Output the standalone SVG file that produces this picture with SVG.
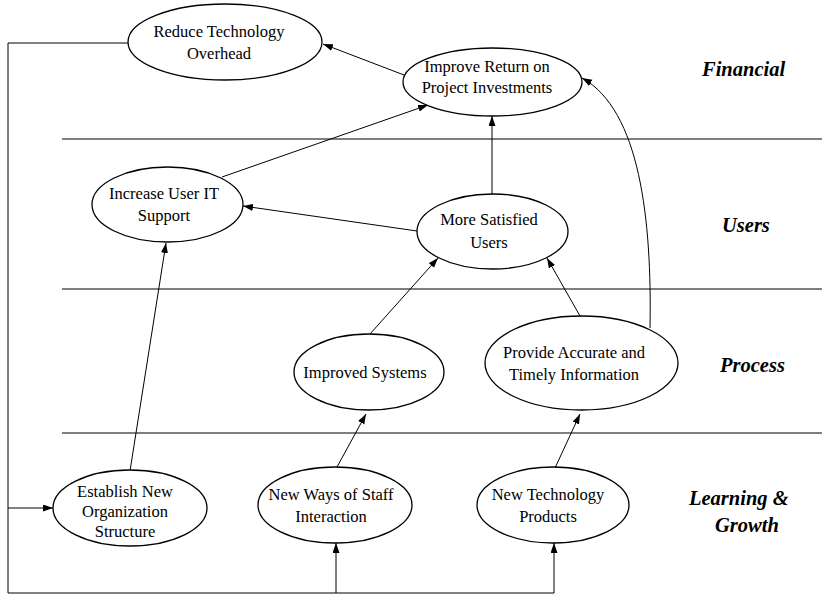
<svg xmlns="http://www.w3.org/2000/svg" width="822" height="598" viewBox="0 0 822 598">
  <style>
    .node ellipse { fill: #ffffff; stroke: #000000; stroke-width: 1.3; }
    .node text { font-family: "Liberation Serif", "Times New Roman", serif; font-size: 16.5px; fill: #000000; text-anchor: middle; }
    .band { stroke: #000000; stroke-width: 1.2; }
    .perspective { font-family: "Liberation Serif", "Times New Roman", serif; font-size: 20.5px; font-weight: bold; font-style: italic; fill: #000000; }
    .conn { fill: none; stroke: #000000; stroke-width: 1; }
    .arrow { marker-end: url(#head); }
  </style>
  <defs>
    <marker id="head" markerUnits="userSpaceOnUse" markerWidth="11" markerHeight="8" refX="10" refY="3.5" orient="auto">
      <path d="M0,0 L10,3.5 L0,7 z" fill="#000000"/>
    </marker>
  </defs>

  <rect width="822" height="598" fill="#ffffff"/>

  <!-- perspective bands -->
  <g id="bands">
    <line class="band" x1="62" y1="139" x2="822" y2="139"/>
    <line class="band" x1="62" y1="289" x2="822" y2="289"/>
    <line class="band" x1="62" y1="433" x2="822" y2="433"/>
    <text class="perspective" x="702" y="76">Financial</text>
    <text class="perspective" x="722" y="232">Users</text>
    <text class="perspective" x="720" y="372">Process</text>
    <text class="perspective" x="689" y="505">Learning &amp;</text>
    <text class="perspective" x="715" y="532">Growth</text>
  </g>

  <!-- connectors -->
  <g id="connectors">
    <line class="conn arrow" x1="404" y1="75" x2="323" y2="44"/>
    <line class="conn arrow" x1="222" y1="177" x2="428" y2="105"/>
    <line class="conn arrow" x1="492" y1="194" x2="492" y2="116"/>
    <line class="conn arrow" x1="417" y1="231" x2="243" y2="206"/>
    <line class="conn arrow" x1="370" y1="334" x2="438" y2="258"/>
    <line class="conn arrow" x1="580" y1="316" x2="547" y2="258"/>
    <path class="conn arrow" d="M650,328 C652,220 640,110 582,78"/>
    <line class="conn arrow" x1="130" y1="471" x2="166" y2="243"/>
    <line class="conn arrow" x1="337" y1="467" x2="366" y2="414"/>
    <line class="conn arrow" x1="555" y1="468" x2="580" y2="414"/>
    <!-- feedback loop from overhead reduction to the learning & growth nodes -->
    <polyline class="conn arrow" points="129,43 8,43 8,593 554,593 554,543"/>
    <line class="conn arrow" x1="336" y1="593" x2="336" y2="543"/>
    <line class="conn arrow" x1="8" y1="508" x2="53" y2="508"/>
  </g>

  <g id="reduce-overhead" class="node">
    <ellipse cx="225" cy="42" rx="97" ry="38"/>
    <text x="219" y="37">Reduce Technology</text>
    <text x="219" y="59">Overhead</text>
  </g>

  <g id="improve-return" class="node">
    <ellipse cx="492.5" cy="82" rx="89.5" ry="34"/>
    <text x="487" y="72">Improve Return on</text>
    <text x="487" y="93">Project Investments</text>
  </g>

  <g id="increase-support" class="node">
    <ellipse cx="167.5" cy="204.5" rx="75.5" ry="37.5"/>
    <text x="164" y="199">Increase User IT</text>
    <text x="164" y="221">Support</text>
  </g>

  <g id="satisfied-users" class="node">
    <ellipse cx="492.5" cy="231.5" rx="75.5" ry="37.5"/>
    <text x="489" y="225">More Satisfied</text>
    <text x="489" y="248">Users</text>
  </g>

  <g id="improved-systems" class="node">
    <ellipse cx="369" cy="372" rx="75" ry="38"/>
    <text x="365" y="378">Improved Systems</text>
  </g>

  <g id="accurate-info" class="node">
    <ellipse cx="581.5" cy="363" rx="96.5" ry="47"/>
    <text x="574" y="358">Provide Accurate and</text>
    <text x="574" y="380">Timely Information</text>
  </g>

  <g id="new-organization" class="node">
    <ellipse cx="130" cy="508" rx="77" ry="38"/>
    <text x="125" y="497">Establish New</text>
    <text x="125" y="517">Organization</text>
    <text x="125" y="537">Structure</text>
  </g>

  <g id="staff-interaction" class="node">
    <ellipse cx="335" cy="505" rx="77" ry="38"/>
    <text x="331" y="500">New Ways of Staff</text>
    <text x="331" y="522">Interaction</text>
  </g>

  <g id="technology-products" class="node">
    <ellipse cx="553" cy="505" rx="76" ry="38"/>
    <text x="548" y="500">New Technology</text>
    <text x="548" y="522">Products</text>
  </g>
</svg>
